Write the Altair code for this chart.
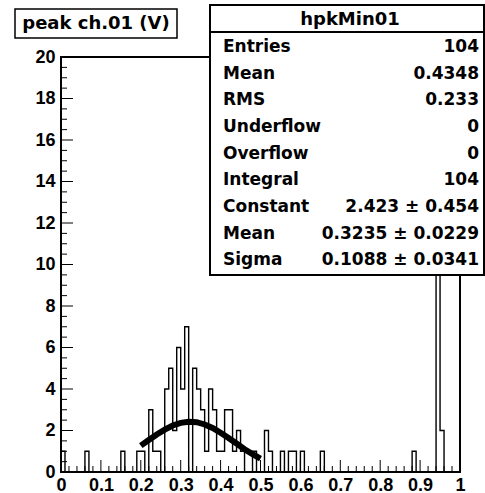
import altair as alt
import pandas as pd

# ---------------- data ----------------
bin_width = 0.01
counts = [
    1, 0, 0, 0, 0, 0, 1, 0, 0, 0,      # 0.00-0.09
    0, 0, 0, 0, 0, 1, 0, 0, 0, 1,      # 0.10-0.19
    1, 0, 3, 1, 1, 0, 4, 5, 2, 6,      # 0.20-0.29
    4, 7, 0, 5, 4, 3, 1, 4, 3, 1,      # 0.30-0.39
    1, 3, 3, 1, 2, 1, 0, 0, 1, 0,      # 0.40-0.49
    0, 2, 1, 0, 0, 1, 0, 1, 1, 0,      # 0.50-0.59
    1, 0, 0, 0, 0, 1, 0, 0, 0, 0,      # 0.60-0.69
    0, 0, 0, 0, 0, 0, 0, 0, 0, 0,      # 0.70-0.79
    0, 0, 0, 0, 0, 0, 0, 0, 1, 0,      # 0.80-0.89
    0, 0, 0, 0, 22, 2, 0, 0, 0, 0,     # 0.90-0.99
]

fit_x = [0.20, 0.22, 0.24, 0.26, 0.28, 0.30, 0.32, 0.34, 0.36, 0.38,
         0.40, 0.42, 0.44, 0.46, 0.48, 0.50]
fit_y = [1.27, 1.54, 1.81, 2.04, 2.24, 2.37, 2.42, 2.40, 2.29, 2.12,
         1.89, 1.64, 1.37, 1.10, 0.86, 0.65]

x_major = [0, 0.1, 0.2, 0.3, 0.4, 0.5, 0.6, 0.7, 0.8, 0.9, 1.0]
x_minor = [0.02, 0.04, 0.06, 0.08, 0.12, 0.14, 0.16, 0.18, 0.22, 0.24, 0.26, 0.28,
           0.32, 0.34, 0.36, 0.38, 0.42, 0.44, 0.46, 0.48, 0.52, 0.54, 0.56, 0.58,
           0.62, 0.64, 0.66, 0.68, 0.72, 0.74, 0.76, 0.78, 0.82, 0.84, 0.86, 0.88,
           0.92, 0.94, 0.96, 0.98]
y_major = [0, 2, 4, 6, 8, 10, 12, 14, 16, 18, 20]
y_minor = [0.5, 1, 1.5, 2.5, 3, 3.5, 4.5, 5, 5.5, 6.5, 7, 7.5, 8.5, 9, 9.5,
           10.5, 11, 11.5, 12.5, 13, 13.5, 14.5, 15, 15.5, 16.5, 17, 17.5,
           18.5, 19, 19.5]

title_text = "peak ch.01 (V)"
stats_name = "hpkMin01"
stats_labels = ["Entries", "Mean", "RMS", "Underflow", "Overflow", "Integral",
                "Constant", "Mean", "Sigma"]
stats_values = ["104", "0.4348", "0.233", "0", "0", "104",
                "2.423 \u00b1 0.454", "0.3235 \u00b1 0.0229", "0.1088 \u00b1 0.0341"]

# ---------------- tables ----------------
hx, hy = [0.0], [0]
for i, c in enumerate(counts):
    hx.append(round(i * bin_width, 2))
    hy.append(c)
hx += [1.0, 1.0]
hy += [counts[-1], 0]
hist_df = pd.DataFrame({"x": hx, "y": hy, "o": list(range(len(hx)))})
fit_df = pd.DataFrame({"x": fit_x, "y": fit_y, "o": list(range(len(fit_x)))})
stats_df = pd.DataFrame({"label": stats_labels, "value": stats_values,
                         "i": list(range(len(stats_labels)))})
one = pd.DataFrame({"a": [0]})

W, H = 399, 415
xs = alt.Scale(domain=[0, 1], nice=False, zero=False)
ys = alt.Scale(domain=[0, 20], nice=False)
TICKFONT = "Liberation Sans"
BOXFONT = "DejaVu Sans"

ax_x = alt.Axis(values=x_major, format=".1~f", ticks=False, domain=False,
                grid=False, title=None, labelFont=TICKFONT,
                labelFontWeight="bold", labelFontSize=18,
                labelPadding=4, labelColor="black", labelFlush=False)
ax_y = alt.Axis(values=y_major, format="d", ticks=False, domain=False,
                grid=False, title=None, labelFont=TICKFONT,
                labelFontWeight="bold", labelFontSize=18,
                labelPadding=6, labelColor="black")

hist = alt.Chart(hist_df).mark_line(
    interpolate="step-after", color="black", strokeWidth=1.4, clip=True
).encode(
    x=alt.X("x:Q", scale=xs, axis=ax_x),
    y=alt.Y("y:Q", scale=ys, axis=ax_y),
    order="o:Q",
)

fit = alt.Chart(fit_df).mark_line(color="black", strokeWidth=6, strokeCap="butt").encode(
    x=alt.X("x:Q", scale=xs, axis=ax_x),
    y=alt.Y("y:Q", scale=ys, axis=ax_y),
    order="o:Q",
)

def yticks(vals, length):
    return alt.Chart(pd.DataFrame({"v": vals})).mark_rule(color="black", strokeWidth=1).encode(
        y=alt.Y("v:Q", scale=ys, axis=ax_y), x=alt.value(0), x2=alt.value(length))

def xticks(vals, length):
    return alt.Chart(pd.DataFrame({"v": vals})).mark_rule(color="black", strokeWidth=1).encode(
        x=alt.X("v:Q", scale=xs, axis=ax_x), y=alt.value(H), y2=alt.value(H - length))

title_box = alt.Chart(one).mark_rect(fill="white", stroke="black", strokeWidth=1.5).encode(
    x=alt.value(-46), x2=alt.value(116), y=alt.value(-48), y2=alt.value(-19))
title_txt = alt.Chart(one).mark_text(
    text=title_text, font=BOXFONT, fontWeight="bold", fontSize=18,
    align="center", baseline="middle", color="black"
).encode(x=alt.value(35), y=alt.value(-33))

stats_box = alt.Chart(one).mark_rect(fill="white", stroke="black", strokeWidth=2).encode(
    x=alt.value(149), x2=alt.value(423), y=alt.value(-52), y2=alt.value(218))
stats_sep = alt.Chart(one).mark_rule(color="black", strokeWidth=2).encode(
    x=alt.value(149), x2=alt.value(423), y=alt.value(-25))
stats_head = alt.Chart(one).mark_text(
    text=stats_name, font=BOXFONT, fontWeight="bold", fontSize=18,
    align="center", baseline="middle", color="black"
).encode(x=alt.value(289), y=alt.value(-37))

stats_base = alt.Chart(stats_df).transform_calculate(ypix="-10 + datum.i * 26.65")
stats_lab = stats_base.mark_text(
    font=BOXFONT, fontWeight="bold", fontSize=17, align="left", baseline="middle", color="black"
).encode(x=alt.value(162), y=alt.Y("ypix:Q", scale=None, axis=None), text="label:N")
stats_val = stats_base.mark_text(
    font=BOXFONT, fontWeight="bold", fontSize=17, align="right", baseline="middle", color="black"
).encode(x=alt.value(418), y=alt.Y("ypix:Q", scale=None, axis=None), text="value:N")

chart = alt.layer(
    hist, fit,
    yticks(y_major, 12), yticks(y_minor, 6),
    xticks(x_major, 12), xticks(x_minor, 6),
    title_box, title_txt,
    stats_box, stats_sep, stats_head, stats_lab, stats_val,
).properties(
    width=W, height=H,
    padding={"left": 61, "top": 57, "right": 25, "bottom": 21},
    autosize=alt.AutoSizeParams(type="none"),
    background="white",
).configure_view(
    stroke="black", strokeWidth=2
).configure_axis(
    labelFont=TICKFONT, labelFontWeight="bold", labelFontSize=18, labelColor="black"
)

chart.save("out.html", embed_options={"renderer": "svg", "actions": False})
